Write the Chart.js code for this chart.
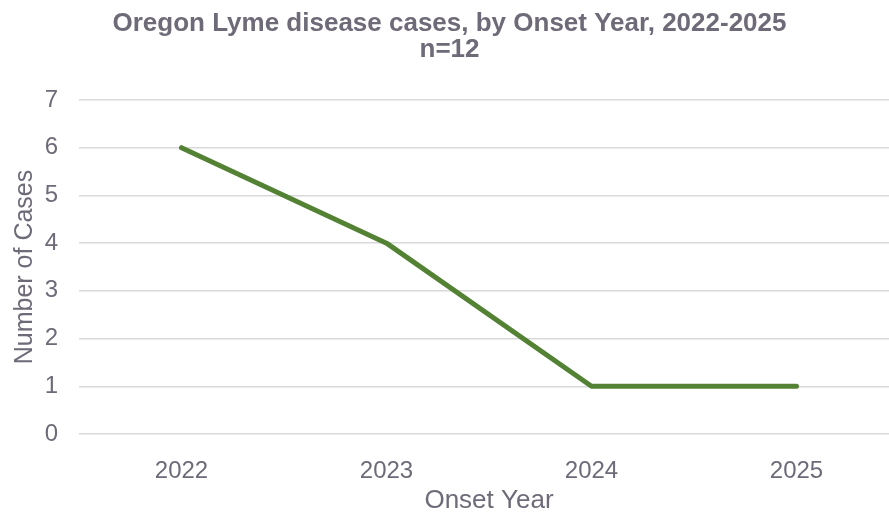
<!DOCTYPE html>
<html>
<head>
<meta charset="utf-8">
<script src="https://cdn.jsdelivr.net/npm/chart.js@4"></script>
<style>
  html, body { margin: 0; padding: 0; background: #fff; overflow: hidden; }
  #wrap { width: 899px; height: 514px; }
</style>
</head>
<body>
<div id="wrap"><canvas id="graph"></canvas></div>
<script>
const annees = ["2022", "2023", "2024", "2025"];
const cas = [6, 4, 1, 1];
const titre = ["Oregon Lyme disease cases, by Onset Year, 2022-2025", "n=12"];

const gris = "#6e6a78";
const police = "Liberation Sans, Arial, sans-serif";

const ctx = document.getElementById("graph").getContext("2d");

new Chart(ctx, {
    type: "line",
    data: {
        labels: annees,
        datasets: [
            {
                label: "Cases",
                data: cas,
                borderColor: "#548235",
                borderWidth: 5,
                borderCapStyle: "round",
                borderJoinStyle: "round",
                pointRadius: 0,
                tension: 0
            }
        ]
    },
    options: {
        responsive: true,
        maintainAspectRatio: false,
        animation: false,
        layout: { padding: 0 },
        plugins: {
            legend: { display: false },
            tooltip: { enabled: false },
            title: {
                display: true,
                text: titre,
                color: gris,
                font: { family: police, size: 26, weight: "bold", lineHeight: 1.0 },
                padding: { top: 11, bottom: 37 }
            }
        },
        scales: {
            x: {
                offset: true,
                grid: { display: false },
                border: { display: false },
                ticks: {
                    color: gris,
                    font: { family: police, size: 24 },
                    padding: 15
                },
                title: {
                    display: true,
                    text: "Onset Year",
                    color: gris,
                    font: { family: police, size: 26 },
                    padding: { top: 0, bottom: -2 }
                },
                afterFit: function (s) { s.height = 80; }
            },
            y: {
                min: 0,
                max: 7,
                ticks: {
                    stepSize: 1,
                    color: gris,
                    font: { family: police, size: 24 },
                    padding: 21
                },
                grid: { color: "#d9d9dc", lineWidth: 1.5, drawTicks: false },
                border: { display: false },
                title: {
                    display: true,
                    text: "Number of Cases",
                    color: gris,
                    font: { family: police, size: 25 },
                    padding: { top: 10, bottom: 0 }
                },
                afterFit: function (s) { s.width = 79; }
            }
        }
    }
});
</script>
</body>
</html>
